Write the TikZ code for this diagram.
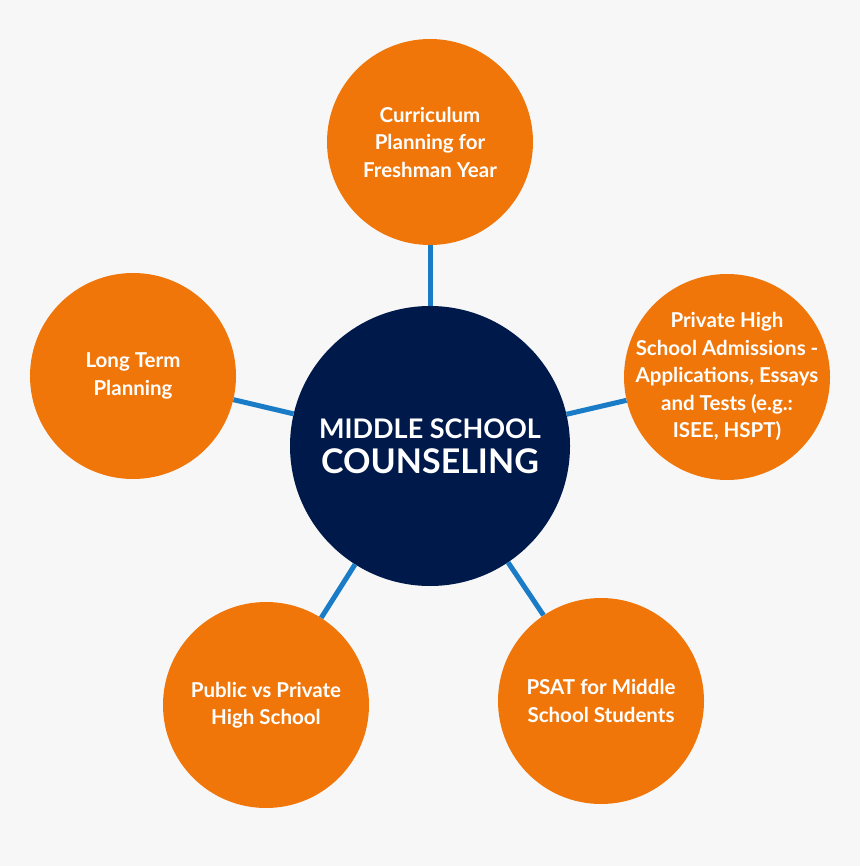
\documentclass[tikz,border=0pt]{standalone}
\usepackage{fontspec}
\setmainfont{Lato}
\definecolor{bgc}{HTML}{F7F7F7}
\definecolor{orangec}{HTML}{F0760A}
\definecolor{navyc}{HTML}{00194B}
\definecolor{bluec}{HTML}{1A7BC6}
\begin{document}
\begin{tikzpicture}[x=1pt,y=-1pt,
  topic/.style={circle,fill=orangec,minimum size=206pt,inner sep=0pt,align=center,text=white,
    font=\fontsize{20.5}{27.5}\selectfont\bfseries},
  hub/.style={circle,fill=navyc,minimum size=280pt,inner sep=0pt,align=center,text=white},
  link/.style={draw=bluec,line width=5pt}]
\fill[bgc] (0,0) rectangle (860,866);
\useasboundingbox (0,0) rectangle (860,866);
\node[hub] (c) at (430,446) {{\fontsize{27}{30}\selectfont\bfseries MIDDLE SCHOOL}\\[9pt]{\fontsize{34}{36}\selectfont\bfseries COUNSELING}};
\node[topic] (t) at (430,142) {Curriculum\\Planning for\\Freshman Year};
\node[topic,inner sep=-20pt] (r) at (727,377) {Private High\\School Admissions -\\Applications, Essays\\and Tests (e.g.:\\ISEE, HSPT)};
\node[topic] (l) at (133,376) {Long Term\\Planning};
\node[topic] (bl) at (266,705) {Public vs Private\\High School};
\node[topic] (br) at (601,701) {PSAT for Middle\\School Students};
\draw[link] (c) -- (t);
\draw[link] (c) -- (r);
\draw[link] (c) -- (l);
\draw[link] (c) -- (bl);
\draw[link] (c) -- (br);
\end{tikzpicture}
\end{document}
